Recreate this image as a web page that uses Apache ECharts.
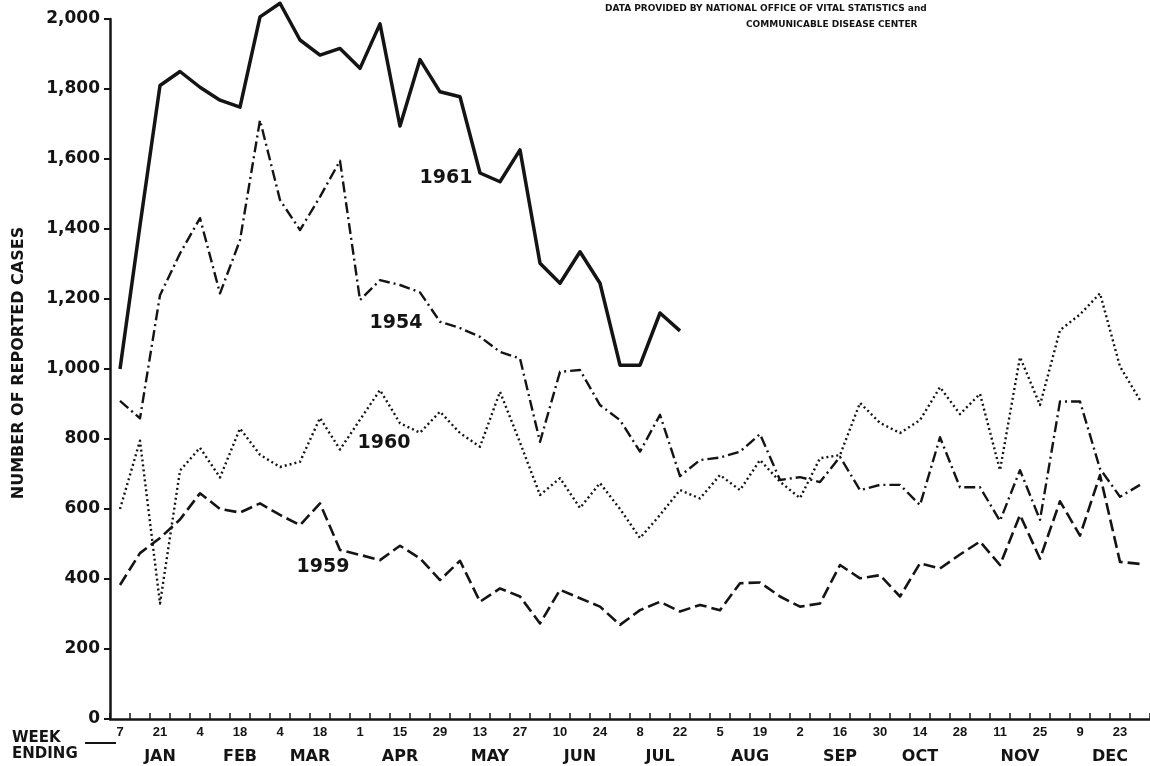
<!DOCTYPE html>
<html><head><meta charset="utf-8">
<script src="https://cdn.jsdelivr.net/npm/echarts@6/dist/echarts.min.js"></script>
<style>html,body{margin:0;padding:0;background:#fff}#c{width:1150px;height:766px}</style>
</head><body><div id="c"></div>
<script>
// ---- data ----
const weekEnding = [
  'Jan 7','Jan 14','Jan 21','Jan 28','Feb 4','Feb 11','Feb 18','Feb 25',
  'Mar 4','Mar 11','Mar 18','Mar 25','Apr 1','Apr 8','Apr 15','Apr 22','Apr 29',
  'May 6','May 13','May 20','May 27','Jun 3','Jun 10','Jun 17','Jun 24',
  'Jul 1','Jul 8','Jul 15','Jul 22','Jul 29','Aug 5','Aug 12','Aug 19','Aug 26',
  'Sep 2','Sep 9','Sep 16','Sep 23','Sep 30','Oct 7','Oct 14','Oct 21','Oct 28',
  'Nov 4','Nov 11','Nov 18','Nov 25','Dec 2','Dec 9','Dec 16','Dec 23','Dec 30'
];
const cases1961 = [1000,1410,1810,1850,1805,1768,1748,2006,2045,1940,1897,1916,1859,1986,1694,1884,1792,1778,1560,1535,1626,1302,1245,1335,1245,1011,1011,1160,1109];
const cases1954 = [909,859,1211,1330,1431,1216,1368,1711,1483,1397,1492,1595,1197,1254,1240,1219,1135,1117,1092,1049,1030,792,992,997,897,854,764,869,694,740,747,764,814,683,691,677,749,654,669,669,611,805,662,662,566,711,569,907,907,715,635,669];
const cases1960 = [600,795,330,710,775,690,830,755,720,735,860,770,855,940,845,818,878,817,778,935,790,640,688,603,674,600,517,583,654,630,697,654,740,678,631,745,754,903,846,817,854,948,871,929,711,1034,897,1111,1156,1216,1007,911];
const cases1959 = [383,474,517,570,645,600,590,616,583,554,616,483,469,454,495,459,397,452,335,373,350,273,369,345,321,269,311,335,307,326,311,388,390,350,321,330,440,402,411,350,445,430,470,507,440,583,458,622,524,697,449,443];
const monthNames = ['JAN','FEB','MAR','APR','MAY','JUN','JUL','AUG','SEP','OCT','NOV','DEC'];
const yTickStep = 200;

// ---- layout / style ----
const monthLabelAt = [2, 6, 9.5, 14, 18.5, 23, 27, 31.5, 36, 40, 45, 49.5];
const monthMap = {};
monthNames.forEach((m, i) => {
  const p = monthLabelAt[i], idx = Math.floor(p);
  monthMap[idx] = { name: m, half: p - idx > 0 };
});
const INK = '#141414';
const FONT = 'DejaVu Sans';

const chart = echarts.init(document.getElementById('c'));
const lineSeries = (name, data, type, width, clip) => ({
  name, type: 'line', data, symbol: 'none', clip: clip,
  lineStyle: { color: INK, width: width, type: type, join: 'round' },
  animation: false
});

chart.setOption({
  backgroundColor: '#ffffff',
  animation: false,
  grid: { left: 110, top: 19, width: 1042, height: 700, containLabel: false },
  xAxis: [{
    type: 'category', data: weekEnding, boundaryGap: true,
    axisLine: { show: true, lineStyle: { color: INK, width: 2.5 } },
    axisTick: { show: true, inside: true, length: 6, interval: 0, lineStyle: { color: INK, width: 1.5 } },
    axisLabel: { interval: 1, margin: 7, color: INK, fontFamily: 'Liberation Sans', fontWeight: 'bold', fontSize: 13,
      formatter: v => v.split(' ')[1] },
    splitLine: { show: false }
  }, {
    type: 'category', data: weekEnding, boundaryGap: true, position: 'bottom',
    axisLine: { show: false }, axisTick: { show: false }, splitLine: { show: false },
    axisLabel: { interval: 0, margin: 30, color: INK,
      formatter: (v, i) => { const m = monthMap[i]; if (!m) return ''; return (m.half ? '{h|' : '{n|') + m.name + '}'; },
      rich: {
        n: { fontFamily: FONT, fontWeight: 'bold', fontSize: 16, color: INK },
        h: { fontFamily: FONT, fontWeight: 'bold', fontSize: 16, color: INK, padding: [0, 0, 0, 20] }
      }
    }
  }],
  yAxis: {
    type: 'value', min: 0, max: 2000, interval: yTickStep,
    axisLine: { show: true, lineStyle: { color: INK, width: 2.5 } },
    axisTick: { show: true, inside: false, length: 6, lineStyle: { color: INK, width: 2 } },
    axisLabel: { margin: 10, color: INK, fontFamily: FONT, fontWeight: 'bold', fontSize: 17,
      formatter: v => v.toLocaleString('en-US') },
    splitLine: { show: false }
  },
  series: [
    lineSeries('1961', cases1961, 'solid', 3.5, false),
    lineSeries('1954', cases1954, [11, 4, 2, 4], 2.4, true),
    lineSeries('1960', cases1960, [2, 3], 2.4, true),
    lineSeries('1959', cases1959, [12, 5], 2.6, true)
  ],
  graphic: [
    { type: 'text', left: 605, top: 4, style: { text: 'DATA PROVIDED BY NATIONAL OFFICE OF VITAL STATISTICS and', fill: INK, font: 'bold 9px "DejaVu Sans"' } },
    { type: 'text', left: 746, top: 20, style: { text: 'COMMUNICABLE DISEASE CENTER', fill: INK, font: 'bold 9px "DejaVu Sans"' } },
    { type: 'text', x: 446, y: 178, style: { text: '1961', fill: INK, font: 'bold 19px "DejaVu Sans"', textAlign: 'center', textVerticalAlign: 'middle' } },
    { type: 'text', x: 396, y: 323, style: { text: '1954', fill: INK, font: 'bold 19px "DejaVu Sans"', textAlign: 'center', textVerticalAlign: 'middle' } },
    { type: 'text', x: 384, y: 443, style: { text: '1960', fill: INK, font: 'bold 19px "DejaVu Sans"', textAlign: 'center', textVerticalAlign: 'middle' } },
    { type: 'text', x: 323, y: 567, style: { text: '1959', fill: INK, font: 'bold 19px "DejaVu Sans"', textAlign: 'center', textVerticalAlign: 'middle' } },
    { type: 'text', x: 19, y: 363, rotation: Math.PI / 2, style: { text: 'NUMBER OF REPORTED CASES', fill: INK, font: 'bold 16px "DejaVu Sans"', textAlign: 'center', textVerticalAlign: 'middle' } },
    { type: 'text', x: 12, y: 738, style: { text: 'WEEK', fill: INK, font: 'bold 15px "DejaVu Sans"', textAlign: 'left', textVerticalAlign: 'middle' } },
    { type: 'text', x: 12, y: 754, style: { text: 'ENDING', fill: INK, font: 'bold 15px "DejaVu Sans"', textAlign: 'left', textVerticalAlign: 'middle' } },
    { type: 'line', shape: { x1: 85, y1: 743, x2: 116, y2: 743 }, style: { stroke: INK, lineWidth: 2 } }
  ]
});
</script>
</body></html>
